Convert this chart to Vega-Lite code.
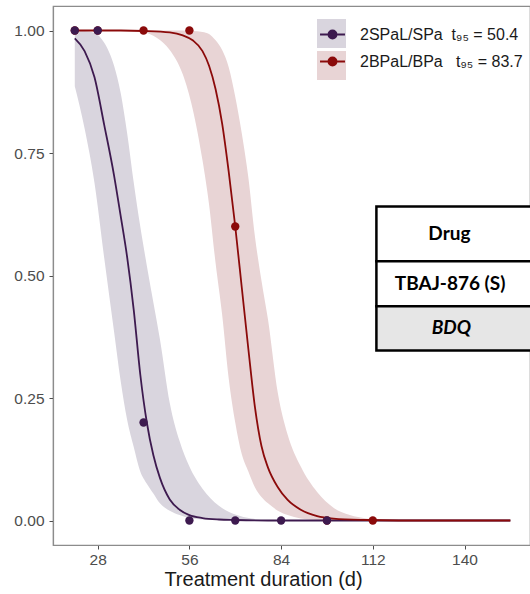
{
  "$schema": "https://vega.github.io/schema/vega-lite/v6.json",
  "width": 477,
  "height": 539,
  "autosize": {"type": "none"},
  "padding": {"left": 53, "top": 6, "right": 0, "bottom": 49},
  "background": "white",
  "config": {
    "view": {"stroke": "#8c8c8c", "strokeWidth": 1.2},
    "axis": {"grid": false, "domainColor": "#8c8c8c", "domainWidth": 1.2, "tickColor": "#4d4d4d", "tickSize": 4, "labelFont": "Liberation Sans", "labelFontSize": 15.5, "labelColor": "#4d4d4d"}
  },
  "datasets": {
    "bands": [
      {"group": "2SPaL/SPa", "t": 21, "lo": 0.886, "hi": 1.0},
      {"group": "2SPaL/SPa", "t": 24, "lo": 0.80, "hi": 0.999},
      {"group": "2SPaL/SPa", "t": 27, "lo": 0.69, "hi": 0.995},
      {"group": "2SPaL/SPa", "t": 30, "lo": 0.535, "hi": 0.975},
      {"group": "2SPaL/SPa", "t": 33, "lo": 0.385, "hi": 0.928},
      {"group": "2SPaL/SPa", "t": 35, "lo": 0.285, "hi": 0.873},
      {"group": "2SPaL/SPa", "t": 37, "lo": 0.205, "hi": 0.79},
      {"group": "2SPaL/SPa", "t": 39, "lo": 0.15, "hi": 0.69},
      {"group": "2SPaL/SPa", "t": 41, "lo": 0.10, "hi": 0.60},
      {"group": "2SPaL/SPa", "t": 43, "lo": 0.075, "hi": 0.52},
      {"group": "2SPaL/SPa", "t": 45, "lo": 0.055, "hi": 0.445},
      {"group": "2SPaL/SPa", "t": 47, "lo": 0.035, "hi": 0.37},
      {"group": "2SPaL/SPa", "t": 50, "lo": 0.02, "hi": 0.24},
      {"group": "2SPaL/SPa", "t": 53, "lo": 0.011, "hi": 0.162},
      {"group": "2SPaL/SPa", "t": 56, "lo": 0.005, "hi": 0.11},
      {"group": "2SPaL/SPa", "t": 60, "lo": 0.002, "hi": 0.065},
      {"group": "2SPaL/SPa", "t": 65, "lo": 0.001, "hi": 0.03},
      {"group": "2SPaL/SPa", "t": 70, "lo": 0, "hi": 0.012},
      {"group": "2SPaL/SPa", "t": 75, "lo": 0, "hi": 0.004},
      {"group": "2SPaL/SPa", "t": 80, "lo": 0, "hi": 0},
      {"group": "2BPaL/BPa", "t": 42, "lo": 0.998, "hi": 1.0},
      {"group": "2BPaL/BPa", "t": 46, "lo": 0.985, "hi": 1.0},
      {"group": "2BPaL/BPa", "t": 50, "lo": 0.96, "hi": 1.0},
      {"group": "2BPaL/BPa", "t": 54, "lo": 0.91, "hi": 1.0},
      {"group": "2BPaL/BPa", "t": 57, "lo": 0.84, "hi": 0.999},
      {"group": "2BPaL/BPa", "t": 60, "lo": 0.735, "hi": 0.997},
      {"group": "2BPaL/BPa", "t": 62, "lo": 0.645, "hi": 0.993},
      {"group": "2BPaL/BPa", "t": 64, "lo": 0.525, "hi": 0.98},
      {"group": "2BPaL/BPa", "t": 66, "lo": 0.42, "hi": 0.96},
      {"group": "2BPaL/BPa", "t": 68, "lo": 0.29, "hi": 0.925},
      {"group": "2BPaL/BPa", "t": 70, "lo": 0.20, "hi": 0.865},
      {"group": "2BPaL/BPa", "t": 72, "lo": 0.135, "hi": 0.79},
      {"group": "2BPaL/BPa", "t": 74, "lo": 0.10, "hi": 0.70},
      {"group": "2BPaL/BPa", "t": 76, "lo": 0.068, "hi": 0.58},
      {"group": "2BPaL/BPa", "t": 78, "lo": 0.048, "hi": 0.49},
      {"group": "2BPaL/BPa", "t": 80, "lo": 0.035, "hi": 0.41},
      {"group": "2BPaL/BPa", "t": 83, "lo": 0.02, "hi": 0.26},
      {"group": "2BPaL/BPa", "t": 86, "lo": 0.011, "hi": 0.175},
      {"group": "2BPaL/BPa", "t": 90, "lo": 0.004, "hi": 0.11},
      {"group": "2BPaL/BPa", "t": 95, "lo": 0.001, "hi": 0.058},
      {"group": "2BPaL/BPa", "t": 100, "lo": 0, "hi": 0.026},
      {"group": "2BPaL/BPa", "t": 105, "lo": 0, "hi": 0.011},
      {"group": "2BPaL/BPa", "t": 110, "lo": 0, "hi": 0.004},
      {"group": "2BPaL/BPa", "t": 115, "lo": 0, "hi": 0}
    ],
    "fits": [
      {"series": "2SPaL/SPa", "t": 21, "fit": 0.984},
      {"series": "2SPaL/SPa", "t": 24, "fit": 0.958},
      {"series": "2SPaL/SPa", "t": 27, "fit": 0.905},
      {"series": "2SPaL/SPa", "t": 30, "fit": 0.807},
      {"series": "2SPaL/SPa", "t": 33, "fit": 0.704},
      {"series": "2SPaL/SPa", "t": 35, "fit": 0.622},
      {"series": "2SPaL/SPa", "t": 37, "fit": 0.537},
      {"series": "2SPaL/SPa", "t": 39, "fit": 0.43},
      {"series": "2SPaL/SPa", "t": 41, "fit": 0.298},
      {"series": "2SPaL/SPa", "t": 43, "fit": 0.20},
      {"series": "2SPaL/SPa", "t": 45, "fit": 0.133},
      {"series": "2SPaL/SPa", "t": 47, "fit": 0.087},
      {"series": "2SPaL/SPa", "t": 50, "fit": 0.043},
      {"series": "2SPaL/SPa", "t": 53, "fit": 0.022},
      {"series": "2SPaL/SPa", "t": 56, "fit": 0.011},
      {"series": "2SPaL/SPa", "t": 60, "fit": 0.005},
      {"series": "2SPaL/SPa", "t": 65, "fit": 0.002},
      {"series": "2SPaL/SPa", "t": 70, "fit": 0.001},
      {"series": "2SPaL/SPa", "t": 80, "fit": 0},
      {"series": "2SPaL/SPa", "t": 154, "fit": 0},
      {"series": "2BPaL/BPa", "t": 21, "fit": 1.0},
      {"series": "2BPaL/BPa", "t": 35, "fit": 1.0},
      {"series": "2BPaL/BPa", "t": 42, "fit": 0.999},
      {"series": "2BPaL/BPa", "t": 50, "fit": 0.996},
      {"series": "2BPaL/BPa", "t": 54, "fit": 0.99},
      {"series": "2BPaL/BPa", "t": 57, "fit": 0.98},
      {"series": "2BPaL/BPa", "t": 60, "fit": 0.958},
      {"series": "2BPaL/BPa", "t": 62, "fit": 0.928},
      {"series": "2BPaL/BPa", "t": 64, "fit": 0.88},
      {"series": "2BPaL/BPa", "t": 66, "fit": 0.81},
      {"series": "2BPaL/BPa", "t": 68, "fit": 0.712},
      {"series": "2BPaL/BPa", "t": 70, "fit": 0.60},
      {"series": "2BPaL/BPa", "t": 72, "fit": 0.475},
      {"series": "2BPaL/BPa", "t": 74, "fit": 0.35},
      {"series": "2BPaL/BPa", "t": 76, "fit": 0.232},
      {"series": "2BPaL/BPa", "t": 78, "fit": 0.152},
      {"series": "2BPaL/BPa", "t": 80, "fit": 0.108},
      {"series": "2BPaL/BPa", "t": 83, "fit": 0.068},
      {"series": "2BPaL/BPa", "t": 86, "fit": 0.042},
      {"series": "2BPaL/BPa", "t": 90, "fit": 0.022},
      {"series": "2BPaL/BPa", "t": 95, "fit": 0.009},
      {"series": "2BPaL/BPa", "t": 100, "fit": 0.004},
      {"series": "2BPaL/BPa", "t": 110, "fit": 0.001},
      {"series": "2BPaL/BPa", "t": 120, "fit": 0},
      {"series": "2BPaL/BPa", "t": 154, "fit": 0}
    ],
    "obs": [
      {"series": "2BPaL/BPa", "t": 21, "p": 1.0},
      {"series": "2BPaL/BPa", "t": 28, "p": 1.0},
      {"series": "2BPaL/BPa", "t": 42, "p": 1.0},
      {"series": "2BPaL/BPa", "t": 56, "p": 1.0},
      {"series": "2BPaL/BPa", "t": 70, "p": 0.6},
      {"series": "2BPaL/BPa", "t": 98, "p": 0},
      {"series": "2BPaL/BPa", "t": 112, "p": 0},
      {"series": "2SPaL/SPa", "t": 21, "p": 1.0},
      {"series": "2SPaL/SPa", "t": 28, "p": 1.0},
      {"series": "2SPaL/SPa", "t": 42, "p": 0.2},
      {"series": "2SPaL/SPa", "t": 56, "p": 0},
      {"series": "2SPaL/SPa", "t": 70, "p": 0},
      {"series": "2SPaL/SPa", "t": 84, "p": 0},
      {"series": "2SPaL/SPa", "t": 98, "p": 0}
    ],
    "table": [
      {"cell": "Drug"},
      {"cell": "TBAJ-876 (S)"},
      {"cell": "BDQ"}
    ]
  },
  "layer": [
    {
      "data": {"name": "bands"},
      "mark": {"type": "area", "opacity": 1, "interpolate": "monotone"},
      "encoding": {
        "x": {"field": "t", "type": "quantitative", "title": "Treatment duration (d)",
          "scale": {"domain": [14.35, 160], "nice": false, "zero": false},
          "axis": {"values": [28, 56, 84, 112, 140], "labelPadding": 3, "titleFont": "Liberation Sans", "titleFontSize": 20, "titleFontWeight": "normal", "titleColor": "#1a1a1a", "titleX": 210, "titlePadding": 2}},
        "y": {"field": "lo", "type": "quantitative", "title": null,
          "scale": {"domain": [-0.05, 1.05], "nice": false, "zero": false},
          "axis": {"values": [0, 0.25, 0.5, 0.75, 1], "format": ".2f", "labelPadding": 5}},
        "y2": {"field": "hi"},
        "fill": {"field": "group", "type": "nominal", "sort": "descending",
          "scale": {"range": ["#d9d5de", "#e8d4d5"]},
          "legend": {"orient": "none", "legendX": 264, "legendY": 13, "title": null, "symbolType": "square", "symbolSize": 841, "symbolStrokeWidth": 0, "symbolOpacity": 1, "labelExpr": "''", "padding": 0, "rowPadding": 3, "zindex": 1}}
      }
    },
    {
      "data": {"name": "fits"},
      "mark": {"type": "line", "strokeWidth": 1.8, "interpolate": "monotone"},
      "encoding": {
        "x": {"field": "t", "type": "quantitative", "title": "Treatment duration (d)"},
        "y": {"field": "fit", "type": "quantitative", "title": null},
        "stroke": {"field": "series", "type": "nominal",
          "scale": {"domain": ["2SPaL/SPa", "2BPaL/BPa"], "range": ["#3d1a4f", "#8b0a0a"]},
          "legend": {"orient": "none", "legendX": 264, "legendY": 13, "title": null, "symbolType": "M-0.86,0H0.86M-0.28,0A0.28,0.28,0,1,1,0.28,0A0.28,0.28,0,1,1,-0.28,0Z", "symbolSize": 841, "symbolStrokeWidth": 1.8, "symbolOpacity": 1, "labelFont": "Liberation Sans", "labelFontSize": 16, "labelColor": "#1a1a1a", "labelOffset": 12, "labelLimit": 400, "padding": 0, "rowPadding": 3, "zindex": 2, "labelExpr": "datum.label == '2SPaL/SPa' ? '2SPaL/SPa\u00a0\u00a0t₉₅ = 50.4' : '2BPaL/BPa\u00a0\u00a0\u00a0t₉₅ = 83.7'"}}
      }
    },
    {
      "data": {"name": "obs"},
      "mark": {"type": "point", "filled": true, "size": 70, "opacity": 1},
      "encoding": {
        "x": {"field": "t", "type": "quantitative", "title": "Treatment duration (d)"},
        "y": {"field": "p", "type": "quantitative", "title": null},
        "color": {"field": "series", "type": "nominal",
          "scale": {"domain": ["2SPaL/SPa", "2BPaL/BPa"], "range": ["#3d1a4f", "#8b0a0a"]},
          "legend": {"orient": "none", "legendX": 264, "legendY": 13, "title": null, "symbolType": "M-0.86,0H0.86M-0.28,0A0.28,0.28,0,1,1,0.28,0A0.28,0.28,0,1,1,-0.28,0Z", "symbolSize": 841, "symbolStrokeWidth": 1.8, "symbolOpacity": 1, "labelFont": "Liberation Sans", "labelFontSize": 16, "labelColor": "#1a1a1a", "labelOffset": 12, "labelLimit": 400, "padding": 0, "rowPadding": 3, "zindex": 2, "labelExpr": "datum.label == '2SPaL/SPa' ? '2SPaL/SPa\u00a0\u00a0t₉₅ = 50.4' : '2BPaL/BPa\u00a0\u00a0\u00a0t₉₅ = 83.7'"}}
      }
    },
    {
      "data": {"name": "table"},
      "transform": [{"filter": "datum.cell == 'Drug'"}],
      "layer": [
        {"mark": {"type": "rect", "fill": "white", "stroke": "black", "strokeWidth": 2.5, "clip": true},
         "encoding": {"x": {"datum": 113.1, "type": "quantitative"}, "x2": {"datum": 166}, "y": {"datum": 0.641, "type": "quantitative"}, "y2": {"datum": 0.529}}},
        {"mark": {"type": "text", "font": "Lato", "fontWeight": "bold", "fontSize": 19, "color": "black"},
         "encoding": {"x": {"datum": 135.4, "type": "quantitative"}, "y": {"datum": 0.584, "type": "quantitative"}, "text": {"field": "cell"}}}
      ]
    },
    {
      "data": {"name": "table"},
      "transform": [{"filter": "datum.cell == 'TBAJ-876 (S)'"}],
      "layer": [
        {"mark": {"type": "rect", "fill": "white", "stroke": "black", "strokeWidth": 2.5, "clip": true},
         "encoding": {"x": {"datum": 113.1, "type": "quantitative"}, "x2": {"datum": 166}, "y": {"datum": 0.529, "type": "quantitative"}, "y2": {"datum": 0.437}}},
        {"mark": {"type": "text", "font": "Lato", "fontWeight": "bold", "fontSize": 19, "color": "black"},
         "encoding": {"x": {"datum": 135.6, "type": "quantitative"}, "y": {"datum": 0.483, "type": "quantitative"}, "text": {"field": "cell"}}}
      ]
    },
    {
      "data": {"name": "table"},
      "transform": [{"filter": "datum.cell == 'BDQ'"}],
      "layer": [
        {"mark": {"type": "rect", "fill": "#e6e6e6", "stroke": "black", "strokeWidth": 2.5, "clip": true},
         "encoding": {"x": {"datum": 113.1, "type": "quantitative"}, "x2": {"datum": 166}, "y": {"datum": 0.437, "type": "quantitative"}, "y2": {"datum": 0.347}}},
        {"mark": {"type": "text", "font": "Lato", "fontWeight": "bold", "fontStyle": "italic", "fontSize": 19, "color": "black"},
         "encoding": {"x": {"datum": 136, "type": "quantitative"}, "y": {"datum": 0.392, "type": "quantitative"}, "text": {"field": "cell"}}}
      ]
    }
  ]
}
